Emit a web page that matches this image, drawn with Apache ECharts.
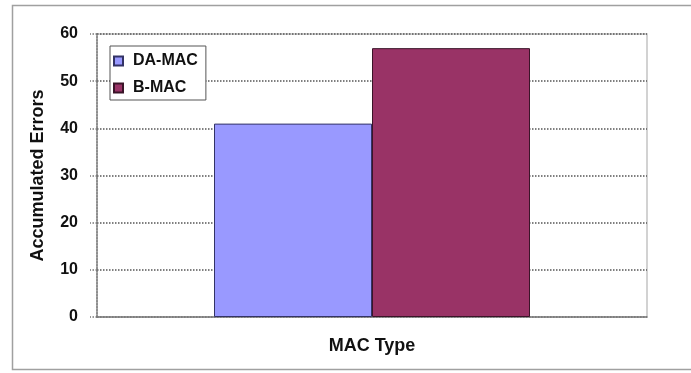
<!DOCTYPE html>
<html>
<head>
<meta charset="utf-8">
<script src="https://cdn.jsdelivr.net/npm/echarts@6/dist/echarts.min.js"></script>
<style>
  html, body { margin: 0; padding: 0; background: #fff; }
  #chart { width: 691px; height: 373px; }
</style>
</head>
<body>
<div id="chart"></div>
<script>
// Accumulated errors per MAC protocol
const categories = [''];
const seriesNames = ['DA-MAC', 'B-MAC'];
const daMacValues = [41];
const bMacValues = [57];
const yTicks = { min: 0, max: 60, interval: 10 };

const FONT = '"Liberation Sans", Arial, sans-serif';
const chart = echarts.init(document.getElementById('chart'), null, { renderer: 'canvas' });

chart.setOption({
  backgroundColor: '#ffffff',
  animation: false,
  textStyle: { fontFamily: FONT },
  graphic: [{
    type: 'rect',
    shape: { x: 12.5, y: 5.5, width: 700, height: 364 },
    style: { fill: 'none', stroke: '#a0a0a0', lineWidth: 1.5 },
    silent: true,
    z: -10
  }],
  grid: {
    left: 97, right: 44, top: 34, bottom: 56,
    show: true, borderColor: '#c4c4c4', borderWidth: 1.5, backgroundColor: 'transparent'
  },
  legend: {
    orient: 'vertical',
    left: 110, top: 46,
    padding: [6, 8, 3, 3],
    icon: 'rect',
    itemWidth: 9, itemHeight: 9, itemGap: 9,
    borderColor: '#555', borderWidth: 1,
    backgroundColor: '#fff',
    textStyle: { fontFamily: FONT, fontSize: 16, fontWeight: 'bold', color: '#111', lineHeight: 18, padding: [0, 0, 0, 5] },
    data: seriesNames
  },
  xAxis: {
    type: 'category',
    data: categories,
    name: 'MAC Type',
    nameLocation: 'middle',
    nameGap: 20,
    nameTextStyle: { fontFamily: FONT, fontSize: 18, fontWeight: 'bold', color: '#111' },
    axisLine: { show: true, lineStyle: { color: '#808080', width: 1.5 } },
    axisTick: { show: false },
    axisLabel: { show: false }
  },
  yAxis: {
    type: 'value',
    min: yTicks.min, max: yTicks.max, interval: yTicks.interval,
    name: 'Accumulated Errors',
    nameLocation: 'middle',
    nameGap: 50,
    nameTextStyle: { fontFamily: FONT, fontSize: 18, fontWeight: 'bold', color: '#111' },
    axisLine: { show: true, lineStyle: { color: '#777', type: 'dotted', width: 1.5 } },
    axisTick: { show: true, length: 7, lineStyle: { color: '#777', type: 'dotted', width: 1.5 } },
    axisLabel: { margin: 19, fontFamily: FONT, fontSize: 16, fontWeight: 'bold', color: '#111' },
    splitLine: { show: true, lineStyle: { color: '#555', type: 'dotted', width: 1.5 } }
  },
  series: [
    {
      name: seriesNames[0], type: 'bar', data: daMacValues,
      barWidth: 158, barGap: '0%',
      itemStyle: { color: '#9999FF', borderColor: '#333366', borderWidth: 1 }
    },
    {
      name: seriesNames[1], type: 'bar', data: bMacValues,
      barWidth: 158, barGap: '0%',
      itemStyle: { color: '#993366', borderColor: '#3a1428', borderWidth: 1 }
    }
  ]
});
</script>
</body>
</html>
